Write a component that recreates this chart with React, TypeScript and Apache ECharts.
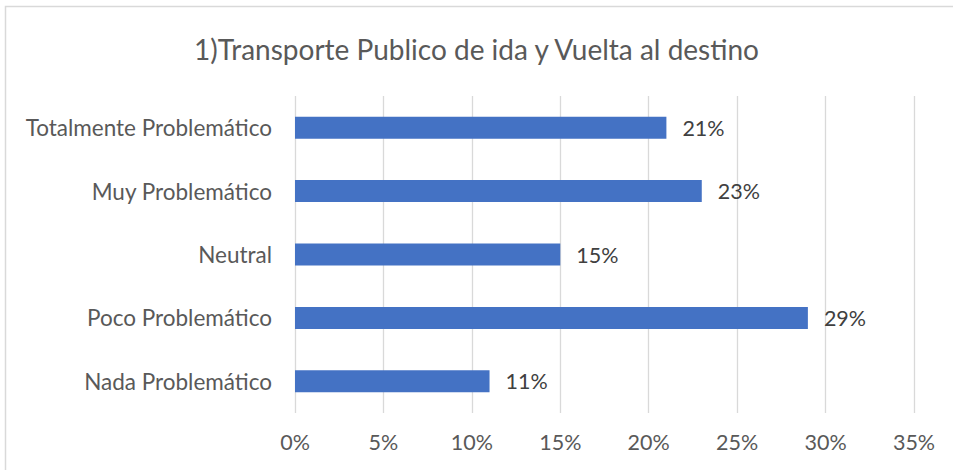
import React, { useEffect, useRef } from "react";
import * as echarts from "echarts";

const categories = [
  "Nada Problemático",
  "Poco Problemático",
  "Neutral",
  "Muy Problemático",
  "Totalmente Problemático",
];
const values = [0.11, 0.29, 0.15, 0.23, 0.21];
const titleText = "1)Transporte Publico de ida y Vuelta al destino";
const axisMin = 0;
const axisMax = 0.35;
const axisStep = 0.05;

const FONT = "Lato, 'Open Sans', sans-serif";

export default function App() {
  const ref = useRef<HTMLDivElement>(null);
  useEffect(() => {
    document.body.style.margin = "0";
    const chart = echarts.init(ref.current!, null, { renderer: "svg" });
    chart.setOption({
      animation: false,
      backgroundColor: "#ffffff",
      title: {
        text: titleText,
        left: "center",
        top: 30,
        textStyle: {
          fontFamily: FONT,
          fontSize: 28,
          fontWeight: "normal",
          color: "#595959",
        },
      },
      graphic: [
        {
          type: "rect",
          shape: { x: 5.5, y: 6.5, width: 960, height: 480 },
          style: { fill: "none", stroke: "#d9d9d9", lineWidth: 1.5 },
          silent: true,
        },
      ],
      grid: { left: 295, right: 39, top: 96, bottom: 57, containLabel: false },
      xAxis: {
        type: "value",
        min: axisMin,
        max: axisMax,
        interval: axisStep,
        axisLine: { show: false },
        axisTick: { show: false },
        splitLine: { show: true, lineStyle: { color: "#d9d9d9", width: 1.3 } },
        axisLabel: {
          formatter: (v: number) => Math.round(v * 100) + "%",
          fontFamily: FONT,
          fontSize: 21.5,
          color: "#595959",
          margin: 18,
        },
      },
      yAxis: {
        type: "category",
        data: categories,
        axisLine: { show: false },
        axisTick: { show: false },
        axisLabel: {
          fontFamily: FONT,
          fontSize: 22.5,
          color: "#595959",
          margin: 23,
        },
      },
      series: [
        {
          type: "bar",
          data: values,
          barWidth: 22,
          itemStyle: { color: "#4472c4" },
          label: {
            show: true,
            position: "right",
            distance: 16,
            formatter: (p: any) => Math.round(p.value * 100) + "%",
            fontFamily: FONT,
            fontSize: 21.5,
            color: "#404040",
          },
        },
      ],
    });
    return () => chart.dispose();
  }, []);
  return <div ref={ref} style={{ width: 953, height: 470 }} />;
}
